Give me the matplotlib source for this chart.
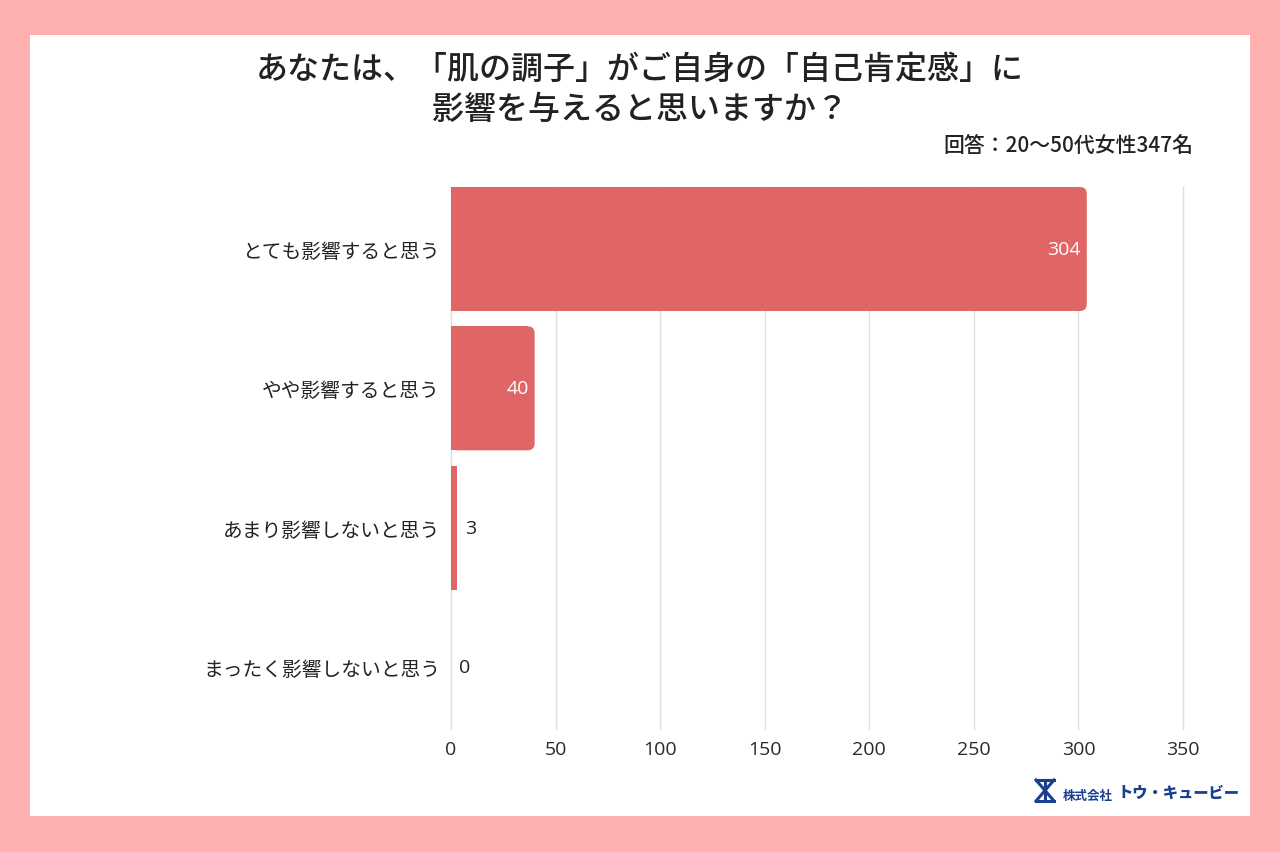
import matplotlib
matplotlib.use("Agg")
import matplotlib.pyplot as plt
from matplotlib.patches import Rectangle, FancyBboxPatch
from matplotlib.lines import Line2D

plt.rcParams['font.family'] = ['Noto Sans CJK JP', 'DejaVu Sans']

title = "あなたは、「肌の調子」がご自身の「自己肯定感」に\n影響を与えると思いますか？"
subtitle = "回答：20〜50代女性347名"
categories = ["とても影響すると思う", "やや影響すると思う", "あまり影響しないと思う", "まったく影響しないと思う"]
values = [304, 40, 3, 0]
xticks = [0, 50, 100, 150, 200, 250, 300, 350]

BAR = "#E06666"
PINK = "#FFB1B1"
TXT = "#222222"
GRID = "#DDDDDD"

W, H = 1280, 853
fig = plt.figure(figsize=(W / 100, H / 100), dpi=100, facecolor=PINK)
fig.patches.append(Rectangle((30 / W, 1 - 817 / H), 1220 / W, 781 / H,
                             transform=fig.transFigure, facecolor="white",
                             edgecolor="none", zorder=-10))

ax = fig.add_axes([451 / W, 1 - 730 / H, (1183 - 451) / W, (730 - 188) / H])
ax.set_zorder(2)
ax.set_facecolor("none")
bh = 0.89
ypos = list(range(len(categories)))
bars = ax.barh(ypos, values, height=bh, color=BAR, zorder=3)
ax.set_xlim(0, 350)
ax.set_ylim(3 + bh / 2, -bh / 2)

# rounded right corners
px_x = (1183 - 451) / 350.0
px_y = (730 - 188) / (3 + bh)
r_px = 7
for b in bars:
    x0, y0, w, h = b.get_x(), b.get_y(), b.get_width(), b.get_height()
    rx = r_px / px_x
    if w > 2 * rx:
        b.set_visible(False)
        aspect = (r_px / px_y) / rx
        ax.add_patch(FancyBboxPatch((x0, y0), w, h,
                                    boxstyle=f"round,pad=0,rounding_size={rx}",
                                    mutation_aspect=aspect, facecolor=BAR,
                                    edgecolor="none", zorder=3))
        ax.add_patch(Rectangle((x0, y0), w - rx, h, facecolor=BAR,
                               edgecolor="none", zorder=3))

for spine in ax.spines.values():
    spine.set_visible(False)
ax.set_xticks(xticks)
ax.set_xticklabels([str(t) for t in xticks], fontsize=14, color="#2a2a2a",
                   family=['Open Sans', 'DejaVu Sans'])
ax.set_yticks(ypos)
ax.set_yticklabels(categories, fontsize=14.2, color=TXT)
ax.tick_params(axis='both', length=0)
ax.tick_params(axis='y', pad=8)
ax.tick_params(axis='x', pad=8)
ax.grid(axis='x', color=GRID, linewidth=1, zorder=0)
for gl in ax.get_xgridlines():
    gl.set_clip_on(False)
ax.set_axisbelow(True)

for y, v in zip(ypos, values):
    if v >= 20:
        ax.text(v - 6 / px_x, y, str(v), ha='right', va='center',
                fontsize=14, color="white", family=['Open Sans', 'DejaVu Sans'], zorder=4)
    else:
        ax.text(v + 8 / px_x, y, str(v), ha='left', va='center',
                fontsize=14, color=TXT, family=['Open Sans', 'DejaVu Sans'], zorder=4)

fig.text(640 / W, 1 - 90 / H, title, ha='center', va='center', fontsize=23,
         fontweight='medium', color=TXT, linespacing=1.3)
fig.text(1193 / W, 1 - 146 / H, subtitle, ha='right', va='center', fontsize=15,
         fontweight='medium', color=TXT)

# logo
LOGO = "#1B3F8F"
fig.text(1063 / W, 1 - 796 / H, "株式会社", ha='left', va='center', fontsize=9,
         color=LOGO, fontweight='bold')
fig.text(1118 / W, 1 - 793 / H, "トウ・キュービー", ha='left', va='center', fontsize=11,
         color=LOGO, fontweight='heavy')
lx0, lx1, ly0, ly1 = 1036, 1054, 781, 802
for (xa, ya, xb, yb) in [(lx0, ly0, lx1, ly0), (lx0, ly1, lx1, ly1),
                         (lx0, ly0, lx1, ly1), (lx1, ly0, lx0, ly1),
                         ((lx0 + lx1) / 2, ly0, (lx0 + lx1) / 2, ly1)]:
    fig.add_artist(Line2D([xa / W, xb / W], [1 - ya / H, 1 - yb / H],
                          transform=fig.transFigure, color=LOGO, linewidth=2.2))

fig.savefig("out.png", dpi=100, facecolor=PINK)
